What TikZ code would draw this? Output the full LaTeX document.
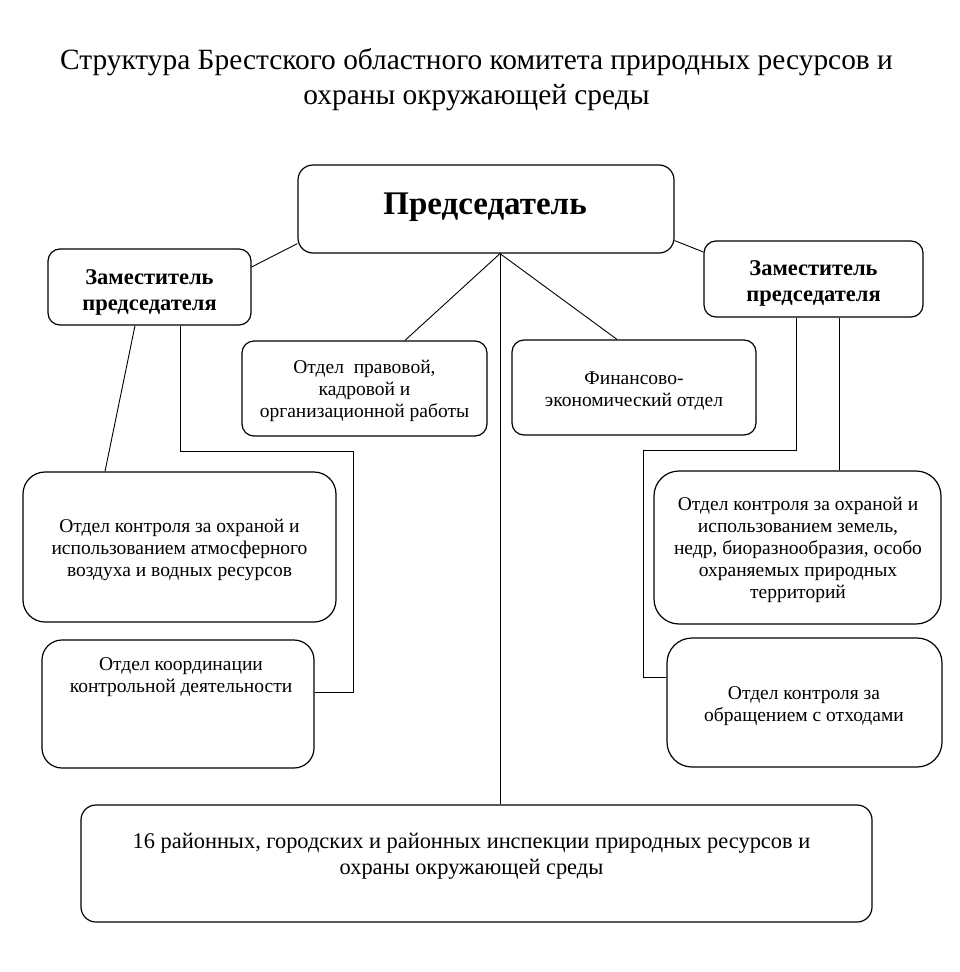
\documentclass[tikz,border=0pt]{standalone}
\usepackage{fontspec}
\setmainfont{Liberation Serif}
\begin{document}
\begin{tikzpicture}[x=1pt,y=-1pt,
  box/.style={draw, line width=1.2pt, rounded corners=#1, inner sep=0pt},
  box/.default=14pt,
  con/.style={line width=0.9pt},
  txt/.style={align=center, font=\fontsize{19.5}{22}\selectfont, inner sep=0pt},
  btxt/.style={align=center, font=\bfseries\fontsize{22.5}{26}\selectfont, inner sep=0pt}]
\useasboundingbox (0,0) rectangle (960,972);

% title
\node[align=center, inner sep=0pt, font=\fontsize{29.4}{35}\selectfont] (title) at (476.5,80)
  {Структура Брестского областного комитета природных ресурсов и\\охраны окружающей среды};

% boxes
\node[box=15pt, minimum width=376pt, minimum height=88pt] (chair) at (486,209) {};
\node[box=12pt, minimum width=203pt, minimum height=76pt] (ld) at (149.5,287) {};
\node[box=12pt, minimum width=219pt, minimum height=76pt] (rd) at (813.5,279) {};
\node[box=12pt, minimum width=245pt, minimum height=95pt] (prav) at (364.5,388.5) {};
\node[box=12pt, minimum width=244pt, minimum height=95pt] (fin) at (634,387.5) {};
\node[box=22pt, minimum width=313pt, minimum height=150pt] (atm) at (179.5,547) {};
\node[box=20pt, minimum width=272pt, minimum height=128pt] (coord) at (178,704) {};
\node[box=25pt, minimum width=287pt, minimum height=153pt] (land) at (797.5,547.5) {};
\node[box=25pt, minimum width=275pt, minimum height=129pt] (waste) at (804.5,702.5) {};
\node[box=15pt, minimum width=791pt, minimum height=117pt] (insp) at (476.5,863.5) {};

% texts
\node[inner sep=0pt, font=\bfseries\fontsize{33}{38}\selectfont] (chairT) at (485,207) {Председатель};
\node[btxt] (ldT) at (149.5,292.5) {Заместитель\\председателя};
\node[btxt] (rdT) at (813.5,283.5) {Заместитель\\председателя};
\node[txt] (pravT) at (364.5,391) {Отдел\ \ правовой,\\кадровой и\\организационной работы};
\node[txt] (finT) at (634,391) {Финансово-\\экономический отдел};
\node[txt] (atmT) at (179.5,550) {Отдел контроля за охраной и\\использованием атмосферного\\воздуха и водных ресурсов};
\node[txt] (coordT) at (181,677) {Отдел координации\\контрольной деятельности};
\node[txt] (landT) at (798,550) {Отдел контроля за охраной и\\использованием земель,\\недр, биоразнообразия, особо\\охраняемых природных\\территорий};
\node[txt] (wasteT) at (804,706) {Отдел контроля за\\обращением с отходами};
\node[align=center, inner sep=0pt, font=\fontsize{22.4}{26}\selectfont] (inspT) at (471.5,856.5)
  {16 районных, городских и районных инспекции природных ресурсов и\\охраны окружающей среды};

% connectors
\coordinate (hub) at ([xshift=14pt]chair.south);
\draw[con] ([yshift=10pt]chair.south west) -- ([yshift=20pt]ld.east);
\draw[con] ([yshift=13pt]chair.south east) -- ([yshift=27pt]rd.west);
\draw[con] (hub) -- ([xshift=40.5pt]prav.north);
\draw[con] (hub) -- ([xshift=-17pt]fin.north);
\draw[con] (hub) -- (hub |- insp.north);

\draw[con] ([xshift=-14.5pt]ld.south) -- ([xshift=-74.5pt]atm.north);
\coordinate (ls) at ([xshift=30.5pt]ld.south);
\coordinate (lbend) at (353,451);
\coordinate (lend) at ([yshift=12pt]coord.east);
\draw[con] (ls) -- (ls |- lbend) -- (lbend) -- (lbend |- lend) -- (lend);

\coordinate (rs) at ([xshift=-17.5pt]rd.south);
\coordinate (rbend) at (643,450);
\coordinate (rend) at ([yshift=25.5pt]waste.west);
\draw[con] (rs) -- (rs |- rbend) -- (rbend) -- (rbend |- rend) -- (rend);
\coordinate (rs2) at ([xshift=25.5pt]rd.south);
\draw[con] (rs2) -- (rs2 |- land.north);
\end{tikzpicture}
\end{document}
